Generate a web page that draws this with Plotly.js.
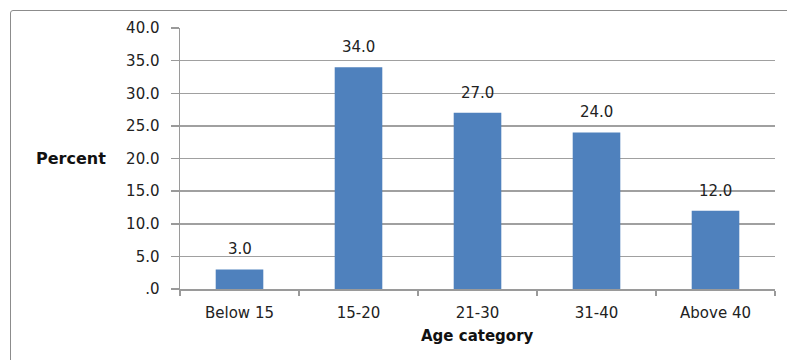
<!DOCTYPE html>
<html>
<head>
<meta charset="utf-8">
<script src="https://cdn.plot.ly/plotly-3.0.1.min.js"></script>
<style>
  body { margin: 0; background: #fff; }
  #frame { position: absolute; left: 10px; top: 10px; width: 820px; height: 400px; border: 1.5px solid #8c8c8c; border-radius: 3px; }
  #chart { position: absolute; left: 0; top: 0; width: 787px; height: 360px; }
</style>
</head>
<body>
<div id="frame"></div>
<div id="chart"></div>
<script>
const categories = ["Below 15", "15-20", "21-30", "31-40", "Above 40"];
const percents = [3.0, 34.0, 27.0, 24.0, 12.0];
const yTickVals = [0, 5, 10, 15, 20, 25, 30, 35, 40];
const yTickText = [".0", "5.0", "10.0", "15.0", "20.0", "25.0", "30.0", "35.0", "40.0"];
const xTitle = "Age category";
const yTitle = "Percent";

const FONT = "DejaVu Sans, Verdana, sans-serif";

const trace = {
  type: "bar",
  x: categories,
  y: percents,
  marker: { color: "#4F81BD", line: { width: 0 } },
  hoverinfo: "none"
};

const labelAnn = categories.map((c, i) => ({
  x: c, y: percents[i], xref: "x", yref: "y",
  text: percents[i].toFixed(1),
  showarrow: false, yanchor: "middle", yshift: 20,
  font: { family: FONT, size: 15, color: "#222" }
}));

const layout = {
  width: 787, height: 360,
  margin: { l: 180, r: 12, t: 28, b: 71 },
  paper_bgcolor: "rgba(0,0,0,0)",
  plot_bgcolor: "rgba(0,0,0,0)",
  showlegend: false,
  bargap: 0.6,
  font: { family: FONT, size: 15, color: "#222" },
  xaxis: {
    type: "category",
    showline: true, linecolor: "#9a9a9a", linewidth: 1.5,
    ticks: "outside", tickson: "boundaries", ticklen: 5, tickcolor: "#9a9a9a", tickwidth: 1.5,
    ticklabelstandoff: 9,
    showgrid: false,
    tickfont: { family: FONT, size: 15, color: "#222" }
  },
  yaxis: {
    range: [0, 40],
    tickvals: yTickVals, ticktext: yTickText,
    showline: true, linecolor: "#9a9a9a", linewidth: 1.5,
    ticks: "outside", ticklen: 8, tickcolor: "#9a9a9a", tickwidth: 1.5,
    showgrid: true, gridcolor: "#a0a0a0", gridwidth: 1.5,
    zeroline: false,
    ticklabelstandoff: 8,
    tickfont: { family: FONT, size: 15, color: "#222" }
  },
  annotations: labelAnn.concat([
    { text: "<b>" + yTitle + "</b>", xref: "paper", yref: "paper", x: -0.121, y: 0.5,
      xanchor: "right", yanchor: "middle", showarrow: false,
      font: { family: FONT, size: 16, color: "#111" } },
    { text: "<b>" + xTitle + "</b>", xref: "paper", yref: "paper", x: 0.5, y: -0.18,
      xanchor: "center", yanchor: "middle", showarrow: false,
      font: { family: FONT, size: 15, color: "#111" } }
  ])
};

Plotly.newPlot("chart", [trace], layout, { displayModeBar: false, staticPlot: true });
</script>
</body>
</html>
